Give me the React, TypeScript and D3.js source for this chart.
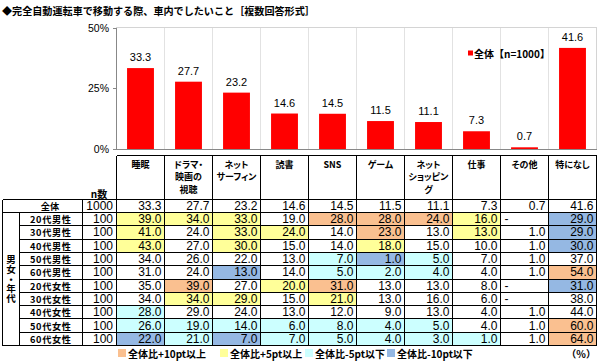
import React from 'react';
import * as d3 from 'd3';

const categories = ['睡眠', 'ドラマ・映画の視聴', 'ネットサーフィン', '読書', 'SNS', 'ゲーム', 'ネットショッピング', '仕事', 'その他', '特になし'];
const headerLines = [['睡眠'], ['ドラマ・', '映画の', '視聴'], ['ネット', 'サーフィン'], ['読書'], ['SNS'], ['ゲーム'], ['ネット', 'ショッピン', 'グ'], ['仕事'], ['その他'], ['特になし']];
const overall = [33.3, 27.7, 23.2, 14.6, 14.5, 11.5, 11.1, 7.3, 0.7, 41.6];
const overallN = 1000;

const rowLabels = ['20代男性', '30代男性', '40代男性', '50代男性', '60代男性', '20代女性', '30代女性', '40代女性', '50代女性', '60代女性'];
const rowN = [100, 100, 100, 100, 100, 100, 100, 100, 100, 100];
const rowValues: (number | null)[][] = [
  [39.0, 34.0, 33.0, 19.0, 28.0, 28.0, 24.0, 16.0, null, 29.0],
  [41.0, 24.0, 33.0, 24.0, 14.0, 23.0, 13.0, 13.0, 1.0, 29.0],
  [43.0, 27.0, 30.0, 15.0, 14.0, 18.0, 15.0, 10.0, 1.0, 30.0],
  [34.0, 26.0, 22.0, 13.0, 7.0, 1.0, 5.0, 7.0, 1.0, 37.0],
  [31.0, 24.0, 13.0, 14.0, 5.0, 2.0, 4.0, 4.0, 1.0, 54.0],
  [35.0, 39.0, 27.0, 20.0, 31.0, 13.0, 13.0, 8.0, null, 31.0],
  [34.0, 34.0, 29.0, 15.0, 21.0, 13.0, 16.0, 6.0, null, 38.0],
  [28.0, 29.0, 24.0, 13.0, 12.0, 9.0, 13.0, 4.0, 1.0, 44.0],
  [26.0, 19.0, 14.0, 6.0, 8.0, 4.0, 5.0, 4.0, 1.0, 60.0],
  [22.0, 21.0, 7.0, 7.0, 5.0, 4.0, 3.0, 1.0, 1.0, 64.0],
];
const groupLabel = '男女・年代';
const yTicks = [0, 25, 50];
const legendItems = [
  { label: '全体比+10pt以上', color: '#FAC090', x: 118 },
  { label: '全体比+5pt以上', color: '#FFFF99', x: 220 },
  { label: '全体比-5pt以下', color: '#CCFFFF', x: 305 },
  { label: '全体比-10pt以下', color: '#95B8E3', x: 387 },
];

const JP = "'Noto Sans CJK JP', sans-serif";
const NUM = "'Liberation Sans', Arial, 'Noto Sans CJK JP', sans-serif";
const palt = { fontFeatureSettings: '"palt"' } as React.CSSProperties;

// highlight colour from difference vs overall
const cellColor = (v: number | null, base: number) => {
  if (v == null) return null;
  const d = v - base;
  if (d >= 10) return legendItems[0].color;
  if (d >= 5) return legendItems[1].color;
  if (d <= -10) return legendItems[3].color;
  if (d <= -5) return legendItems[2].color;
  return null;
};

export default function App() {
  const width = 600;
  const height = 361;

  const x = d3.scaleBand<string>().domain(categories).range([116.5, 596.5]).padding(0);
  const y = d3.scaleLinear().domain([0, 50]).range([149, 27.5]);
  const barW = x.bandwidth() * 0.56;

  const headTop = 155.5;
  const allTop = 199.5;
  const allBottom = 212.5;
  const tableBottom = 345.5;
  const rows = d3.scaleBand<string>().domain(rowLabels).range([allBottom, tableBottom]).padding(0);

  const line = '#000';

  return (
    <svg width={width} height={height} style={{ position: 'absolute', left: 0, top: 0, background: '#fff' }}>
      <text x={2} y={10} dominantBaseline="central" fontFamily={JP} fontWeight="bold" fontSize={10.1} fill="#000">
        ◆完全自動運転車で移動する際、車内でしたいこと［複数回答形式］
      </text>

      {/* plot area */}
      <g shapeRendering="crispEdges">
        <rect x={116.5} y={27.5} width={480} height={149 - 27.5} fill="none" stroke="#D4D4D4" />
        {categories.slice(1).map(c => (
          <line key={c} x1={x(c)} x2={x(c)} y1={27.5} y2={149} stroke="#E2E2E2" />
        ))}
        <line x1={116.5} x2={116.5} y1={27.5} y2={149} stroke="#888" />
        <line x1={116.5} x2={596.5} y1={149} y2={149} stroke="#888" />
        {yTicks.map(t => (
          <line key={t} x1={113} x2={116.5} y1={Math.round(y(t)) + 0.5} y2={Math.round(y(t)) + 0.5} stroke="#888" />
        ))}
      </g>
      {yTicks.map(t => (
        <text key={t} x={109} y={y(t)} textAnchor="end" dominantBaseline="central" fontFamily={NUM} fontSize={10.5} fill="#000">
          {t}%
        </text>
      ))}
      {categories.map((c, i) => (
        <g key={c}>
          <rect x={x(c)! + (x.bandwidth() - barW) / 2} y={y(overall[i])} width={barW} height={y(0) - y(overall[i])} fill="#FF0000" />
          <text x={x(c)! + x.bandwidth() / 2} y={y(overall[i]) - 11} textAnchor="middle" dominantBaseline="central" fontFamily={NUM} fontSize={11} fill="#000">
            {overall[i].toFixed(1)}
          </text>
        </g>
      ))}
      <rect x={468} y={50.5} width={5} height={5} fill="#FF0000" />
      <text x={474} y={53} dominantBaseline="central" fontFamily={JP} fontWeight="bold" fontSize={10} fill="#000">
        全体【n=1000】
      </text>

      {/* table cell fills */}
      {rowLabels.map((r, ri) =>
        categories.map((c, ci) => {
          const col = cellColor(rowValues[ri][ci], overall[ci]);
          return col ? <rect key={r + c} x={x(c)!} y={rows(r)!} width={x.bandwidth()} height={rows.bandwidth()} fill={col} /> : null;
        })
      )}

      {/* table header */}
      {categories.map((c, ci) => (
        <text key={c} textAnchor="middle" fontFamily={JP} fontWeight="bold" fontSize={9} style={palt} fill="#000">
          {headerLines[ci].map((l, li) => (
            <tspan key={li} x={x(c)! + x.bandwidth() / 2} y={164 + li * 12.5} dominantBaseline="central">{l}</tspan>
          ))}
        </text>
      ))}
      <text x={99} y={193} textAnchor="middle" dominantBaseline="central" fontFamily={JP} fontWeight="bold" fontSize={10} fill="#000">n数</text>

      {/* overall row */}
      <text x={50} y={(allTop + allBottom) / 2} textAnchor="middle" dominantBaseline="central" fontFamily={JP} fontWeight="bold" fontSize={9.2} fill="#000">全体</text>
      <text x={113} y={(allTop + allBottom) / 2} textAnchor="end" dominantBaseline="central" fontFamily={NUM} fontSize={12} fill="#000">{overallN}</text>
      {categories.map((c, ci) => (
        <text key={c} x={x(c)! + x.bandwidth() - 3} y={(allTop + allBottom) / 2} textAnchor="end" dominantBaseline="central" fontFamily={NUM} fontSize={12} fill="#000">
          {overall[ci].toFixed(1)}
        </text>
      ))}

      {/* group rows */}
      {rowLabels.map((r, ri) => {
        const cy = rows(r)! + rows.bandwidth() / 2;
        return (
          <g key={r}>
            <text x={30} y={cy} textLength={41} lengthAdjust="spacing" dominantBaseline="central" fontFamily={JP} fontWeight="bold" fontSize={9.2} fill="#000">{r}</text>
            <text x={113} y={cy} textAnchor="end" dominantBaseline="central" fontFamily={NUM} fontSize={12} fill="#000">{rowN[ri]}</text>
            {categories.map((c, ci) => {
              const v = rowValues[ri][ci];
              return v == null ? (
                <text key={c} x={x(c)! + 4} y={cy} dominantBaseline="central" fontFamily={NUM} fontSize={12} fill="#000">-</text>
              ) : (
                <text key={c} x={x(c)! + x.bandwidth() - 3} y={cy} textAnchor="end" dominantBaseline="central" fontFamily={NUM} fontSize={12} fill="#000">
                  {v.toFixed(1)}
                </text>
              );
            })}
          </g>
        );
      })}
      <text x={11} y={(allBottom + tableBottom) / 2} textAnchor="middle" writingMode="tb" fontFamily={JP} fontWeight="bold" fontSize={9.6} letterSpacing={0.2} fill="#000">
        {groupLabel}
      </text>

      {/* table lines */}
      <g shapeRendering="crispEdges" stroke={line} strokeWidth={1}>
        <line x1={116.5} x2={596.5} y1={headTop} y2={headTop} />
        <line x1={2.5} x2={596.5} y1={allTop} y2={allTop} />
        <line x1={2.5} x2={596.5} y1={allBottom} y2={allBottom} />
        {rowLabels.slice(1).map(r => (
          <line key={r} x1={19.5} x2={596.5} y1={rows(r)} y2={rows(r)} />
        ))}
        <line x1={2.5} x2={596.5} y1={tableBottom} y2={tableBottom} />
        <line x1={2.5} x2={2.5} y1={allTop} y2={tableBottom} />
        <line x1={19.5} x2={19.5} y1={allBottom} y2={tableBottom} />
        <line x1={82.5} x2={82.5} y1={allTop} y2={tableBottom} />
        {categories.map(c => (
          <line key={c} x1={x(c)} x2={x(c)} y1={headTop} y2={tableBottom} />
        ))}
        <line x1={596.5} x2={596.5} y1={headTop} y2={tableBottom} />
      </g>

      {/* bottom legend */}
      {legendItems.map(it => (
        <g key={it.label}>
          <rect x={it.x} y={349} width={8} height={8} fill={it.color} />
          <text x={it.x + 10} y={353.5} dominantBaseline="central" fontFamily={JP} fontWeight="bold" fontSize={10} fill="#000">{it.label}</text>
        </g>
      ))}
      <text x={596} y={353.5} textAnchor="end" dominantBaseline="central" fontFamily={JP} fontWeight="bold" fontSize={10} fill="#000">（%）</text>
    </svg>
  );
}
